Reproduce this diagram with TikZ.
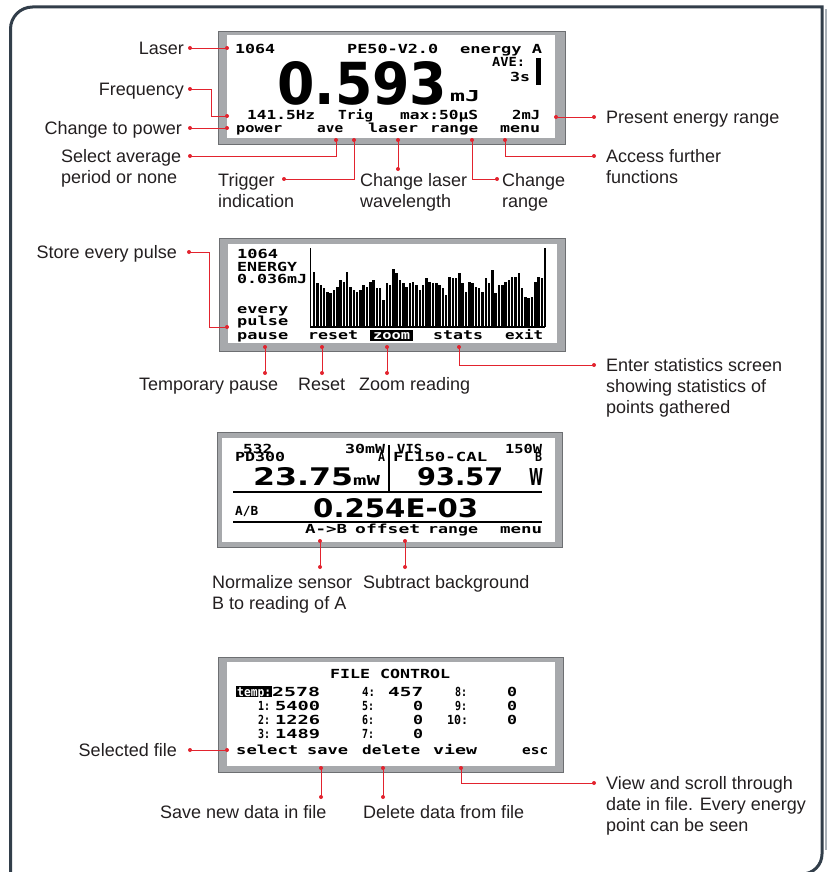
\documentclass[tikz,border=0pt]{standalone}
\usepackage{fontspec}
\usepackage{graphicx}
\setmainfont{Liberation Sans}
\newfontfamily\lcdfont{DejaVu Sans Mono}
\newfontfamily\bigfont{DejaVu Sans}
\definecolor{frameC}{HTML}{323E4A}
\definecolor{shadowC}{HTML}{A9B0B7}
\definecolor{redC}{HTML}{E2232E}
\definecolor{labC}{HTML}{231F20}
\definecolor{scrGray}{HTML}{A7A9AC}
\definecolor{scrEdge}{HTML}{6D6F72}
\tikzset{
  lab/.style={font=\fontsize{18}{21}\selectfont, text=labC, inner sep=0pt},
  labr/.style={lab, anchor=base east},
  labl/.style={lab, anchor=base west},
  lcdn/.style={font=\lcdfont\bfseries\fontsize{12.5}{12.5}\selectfont, inner sep=0pt, anchor=base west},
  bign/.style={font=\bigfont\bfseries\fontsize{20}{20}\selectfont, inner sep=0pt, anchor=base west},
  conn/.style={draw=redC, line width=0.9pt},
  rdot/.style={circle, fill=redC, inner sep=0pt, minimum size=4pt},
  screen/.style={fill=scrGray, draw=scrEdge, line width=0.8pt},
  lcdline/.style={draw=black, line width=1.6pt},
}
\newcommand\lcdtxt[5]{\node[lcdn] (#1) at (#2,#3) {\resizebox{#4pt}{\height}{#5}};}
\newcommand\bigtxt[6]{\node[bign] (#1) at (#2,#3) {\resizebox{#4pt}{#5pt}{#6}};}
\begin{document}
\begin{tikzpicture}[x=1pt,y=-1pt]
\useasboundingbox (0,0) rectangle (829,872);
% outer frame
\draw[shadowC, line width=2pt] (825.5,9) -- (825.5,850);
\draw[frameC, line width=3pt] (10.5,885) -- (10.5,29) arc[start angle=180,end angle=270,radius=22] -- (822,7) -- (822,854) arc[start angle=0,end angle=90,radius=20] -- (700,874);

% ===== Screen 1 =====
\draw[screen] (218,31) rectangle (565,144);
\fill[white] (227,35) rectangle (555,138);
\lcdtxt{s1a}{235}{54}{40}{1064}
\lcdtxt{s1b}{347}{54}{91}{PE50-V2.0}
\lcdtxt{s1c}{460}{54}{82}{energy A}
\bigtxt{s1big}{277}{105}{170}{43}{0.593}
\node[lcdn] (s1mj) at (450,102) {\resizebox{30pt}{11pt}{mJ}};
\lcdtxt{s1ave}{492}{67}{33}{AVE:}
\lcdtxt{s1s}{510}{82}{20}{3s}
\fill[black] (536,58) rectangle (541,85);
\lcdtxt{s1f}{247}{119.5}{68}{141.5Hz}
\lcdtxt{s1t}{338}{119.5}{35}{Trig}
\lcdtxt{s1m}{400}{119.5}{78}{max:50μS}
\lcdtxt{s1r}{512}{119.5}{28}{2mJ}
\lcdtxt{s1p}{236}{132}{46}{power}
\lcdtxt{s1v}{317}{132}{26}{ave}
\lcdtxt{s1l}{368}{132}{50}{laser}
\lcdtxt{s1g}{430}{132}{48}{range}
\lcdtxt{s1n}{500}{132}{40}{menu}

% labels screen 1
\node[labr] (lLaser) at (184,55) {Laser};
\node[labr] (lFreq) at (184,95.5) {Frequency};
\node[labr] (lPower) at (182,134.5) {Change to power};
\node[labl] (lAvg1) at (61,162.5) {Select average};
\node[labl] (lAvg2) at (61,183.5) {period or none};
\node[labl] (lTrig1) at (218,186) {Trigger};
\node[labl] (lTrig2) at (218,207) {indication};
\node[labl] (lWave1) at (360,186) {Change laser};
\node[labl] (lWave2) at (360,207) {wavelength};
\node[labl] (lRange1) at (502,186) {Change};
\node[labl] (lRange2) at (502,207) {range};
\node[labl] (lAcc1) at (606,162.5) {Access further};
\node[labl] (lAcc2) at (606,183.5) {functions};
\node[labl] (lPres) at (606,124) {Present energy range};

% connectors screen 1
\node[rdot] (dLa1) at (190,48) {}; \node[rdot] (dLa2) at (227,48) {};
\draw[conn] (dLa1.center) -- (dLa2.center);
\node[rdot] (dFr1) at (190,89) {}; \node[rdot] (dFr2) at (227,116) {};
\coordinate (cFr) at (211,89);
\draw[conn] (dFr1.center) -- (cFr) |- (dFr2.center);
\node[rdot] (dPo1) at (190,128) {}; \node[rdot] (dPo2) at (227,128) {};
\draw[conn] (dPo1.center) -- (dPo2.center);
\node[rdot] (dAv1) at (190,156) {}; \node[rdot] (dAv2) at (336,140) {};
\draw[conn] (dAv1.center) -| (dAv2.center);
\node[rdot] (dTr1) at (284,179) {}; \node[rdot] (dTr2) at (354,140) {};
\draw[conn] (dTr1.center) -| (dTr2.center);
\node[rdot] (dWa1) at (398,140) {}; \node[rdot] (dWa2) at (398,169) {};
\draw[conn] (dWa1.center) -- (dWa2.center);
\node[rdot] (dRa1) at (472,140) {}; \node[rdot] (dRa2) at (497,179) {};
\draw[conn] (dRa1.center) |- (dRa2.center);
\node[rdot] (dAc1) at (505,140) {}; \node[rdot] (dAc2) at (594,156) {};
\draw[conn] (dAc1.center) |- (dAc2.center);
\node[rdot] (dPr1) at (556,117) {}; \node[rdot] (dPr2) at (594,117) {};
\draw[conn] (dPr1.center) -- (dPr2.center);

% ===== Screen 2 =====
\draw[screen] (219,238) rectangle (565,351);
\fill[white] (228,244) rectangle (557,343);
\lcdtxt{s2a}{237}{258}{41}{1064}
\lcdtxt{s2b}{237}{271}{60}{ENERGY}
\lcdtxt{s2c}{237}{283}{70}{0.036mJ}
\lcdtxt{s2d}{237}{313}{51}{every}
\lcdtxt{s2e}{237}{325}{51}{pulse}
\lcdtxt{s2f}{237}{339}{51}{pause}
\lcdtxt{s2g}{308}{339}{50}{reset}
\fill[black] (370,330) rectangle (413,341);
\node[lcdn, text=white] (s2h) at (373,339.5) {\resizebox{37pt}{\height}{zoom}};
\lcdtxt{s2i}{433}{339}{50}{stats}
\lcdtxt{s2j}{505}{339}{38}{exit}
\draw[black, line width=1.4pt] (310.5,248) -- (310.5,327);
\draw[black, line width=1.4pt] (310,327) -- (545,327);
\foreach \v [count=\i] in {125,160,165,175,185,190,180,170,150,155,125,170,180,185,180,165,170,155,150,175,175,210,160,165,118,130,150,160,170,160,155,165,180,165,145,155,160,160,165,175,195,140,145,145,130,160,185,155,160,170,175,185,145,160,120,190,165,165,155,150,140,140,130,175,200,205,200,155,140,145,55}
  \fill[black] ({309.6+\i*3.3},{230+\v/3}) rectangle ({312.1+\i*3.3},327);

% labels screen 2
\node[labr] (lStore) at (177,258.5) {Store every pulse};
\node[labl] (lTemp) at (139,390) {Temporary pause};
\node[labl] (lReset) at (298,390) {Reset};
\node[labl] (lZoom) at (359,390) {Zoom reading};
\node[labl] (lEnt1) at (606,371.5) {Enter statistics screen};
\node[labl] (lEnt2) at (606,392.5) {showing statistics of};
\node[labl] (lEnt3) at (606,413.5) {points gathered};

% connectors screen 2
\node[rdot] (dSt1) at (189,252) {}; \node[rdot] (dSt2) at (227,327) {};
\coordinate (cSt) at (209,252);
\draw[conn] (dSt1.center) -- (cSt) |- (dSt2.center);
\node[rdot] (dPa1) at (265,347) {}; \node[rdot] (dPa2) at (265,373) {};
\draw[conn] (dPa1.center) -- (dPa2.center);
\node[rdot] (dRe1) at (322,347) {}; \node[rdot] (dRe2) at (322,373) {};
\draw[conn] (dRe1.center) -- (dRe2.center);
\node[rdot] (dZo1) at (387,347) {}; \node[rdot] (dZo2) at (387,373) {};
\draw[conn] (dZo1.center) -- (dZo2.center);
\node[rdot] (dSs1) at (459,347) {}; \node[rdot] (dSs2) at (594,365) {};
\draw[conn] (dSs1.center) |- (dSs2.center);

% ===== Screen 3 =====
\draw[screen] (217,432) rectangle (562,547);
\fill[white] (222,438) rectangle (555,542);
\lcdtxt{s3a}{243}{453}{29}{532}
\lcdtxt{s3b}{235}{461}{50}{PD300}
\lcdtxt{s3c}{345}{453}{40}{30mW}
\lcdtxt{s3d}{378}{461}{7}{A}
\draw[lcdline] (389,445) -- (389,492);
\lcdtxt{s3e}{397}{453}{25}{VIS}
\lcdtxt{s3f}{393}{461}{94}{FL150-CAL}
\lcdtxt{s3g}{505}{453}{37}{150W}
\lcdtxt{s3h}{535}{461}{7}{B}
\bigtxt{s3i}{253}{485}{100}{18}{23.75}
\node[lcdn] (s3j) at (353,485) {\resizebox{27pt}{10pt}{mW}};
\bigtxt{s3k}{417}{485}{86}{18}{93.57}
\bigtxt{s3l}{529}{485}{14}{17}{W}
\draw[lcdline] (233,492) -- (542,492);
\lcdtxt{s3m}{235}{515}{23}{A/B}
\bigtxt{s3n}{313}{517}{165}{19}{0.254E-03}
\draw[lcdline] (233,522) -- (542,522);
\lcdtxt{s3o}{305}{533}{42}{A->B}
\lcdtxt{s3p}{355}{533}{65}{offset}
\lcdtxt{s3q}{428}{533}{50}{range}
\lcdtxt{s3r}{500}{533}{42}{menu}

% labels screen 3
\node[labl] (lNorm1) at (212,588) {Normalize sensor};
\node[labl] (lNorm2) at (212,609) {B to reading of A};
\node[labl] (lSub) at (363,588) {Subtract background};

% connectors screen 3
\node[rdot] (dNo1) at (320,541) {}; \node[rdot] (dNo2) at (320,567) {};
\draw[conn] (dNo1.center) -- (dNo2.center);
\node[rdot] (dSu1) at (405,541) {}; \node[rdot] (dSu2) at (405,567) {};
\draw[conn] (dSu1.center) -- (dSu2.center);

% ===== Screen 4 =====
\draw[screen] (218,657) rectangle (563,772);
\fill[white] (227,662) rectangle (555,766);
\lcdtxt{s4t}{330}{678}{120}{FILE CONTROL}
\fill[black] (236,686) rectangle (272,697);
\node[lcdn, text=white] (s4tmp) at (237,696) {\resizebox{34pt}{\height}{temp:}};
\lcdtxt{s4a}{272}{696}{48}{2578}
\lcdtxt{s4b}{362}{696}{13}{4:}
\lcdtxt{s4c}{388}{696}{35}{457}
\lcdtxt{s4d}{455}{696}{12}{8:}
\lcdtxt{s4e}{507}{696}{10}{0}
\lcdtxt{s4f}{258}{710}{12}{1:}
\lcdtxt{s4g}{275}{710}{45}{5400}
\lcdtxt{s4h}{362}{710}{12}{5:}
\lcdtxt{s4i}{413}{710}{10}{0}
\lcdtxt{s4j}{455}{710}{12}{9:}
\lcdtxt{s4k}{507}{710}{10}{0}
\lcdtxt{s4l}{258}{724}{12}{2:}
\lcdtxt{s4m}{275}{724}{45}{1226}
\lcdtxt{s4n}{362}{724}{12}{6:}
\lcdtxt{s4o}{413}{724}{10}{0}
\lcdtxt{s4p}{447}{724}{21}{10:}
\lcdtxt{s4q}{507}{724}{10}{0}
\lcdtxt{s4r}{258}{738}{12}{3:}
\lcdtxt{s4s}{275}{738}{45}{1489}
\lcdtxt{s4u}{362}{738}{12}{7:}
\lcdtxt{s4v}{413}{738}{10}{0}
\lcdtxt{s4w}{236}{754}{62}{select}
\lcdtxt{s4x}{307}{754}{41}{save}
\lcdtxt{s4y}{362}{754}{58}{delete}
\lcdtxt{s4z}{433}{754}{44}{view}
\lcdtxt{s4esc}{522}{754}{26}{esc}

% labels screen 4
\node[labr] (lSel) at (177,756.5) {Selected file};
\node[labl] (lSave) at (160,818) {Save new data in file};
\node[labl] (lDel) at (363,818) {Delete data from file};
\node[labl] (lView1) at (606,789.5) {View and scroll through};
\node[labl] (lView2) at (606,810.5) {date in file. Every energy};
\node[labl] (lView3) at (606,831.5) {point can be seen};

% connectors screen 4
\node[rdot] (dSe1) at (190,750) {}; \node[rdot] (dSe2) at (227,750) {};
\draw[conn] (dSe1.center) -- (dSe2.center);
\node[rdot] (dSa1) at (321,768) {}; \node[rdot] (dSa2) at (321,797) {};
\draw[conn] (dSa1.center) -- (dSa2.center);
\node[rdot] (dDe1) at (383,768) {}; \node[rdot] (dDe2) at (383,797) {};
\draw[conn] (dDe1.center) -- (dDe2.center);
\node[rdot] (dVi1) at (461,768) {}; \node[rdot] (dVi2) at (594,783) {};
\draw[conn] (dVi1.center) |- (dVi2.center);
\end{tikzpicture}
\end{document}
